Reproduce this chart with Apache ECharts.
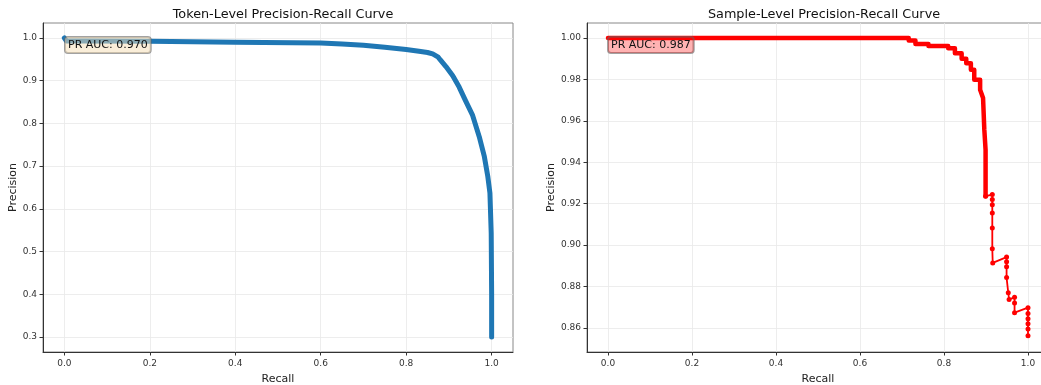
<!DOCTYPE html>
<html>
<head>
<meta charset="utf-8">
<script src="https://cdn.jsdelivr.net/npm/echarts@6/dist/echarts.min.js"></script>
<style>
html,body{margin:0;padding:0;background:#fff;}
#chart{width:1041px;height:385px;}
</style>
</head>
<body>
<div id="chart"></div>
<script>
// ---- Token-level PR curve ----
const tokenRecall    = [0, 0.005, 0.05, 0.2, 0.4, 0.6, 0.65, 0.7, 0.75, 0.8, 0.83, 0.85, 0.862, 0.875, 0.88, 0.893, 0.909, 0.924, 0.938, 0.955, 0.971, 0.983, 0.991, 0.996, 0.999, 1.0, 1.0];
const tokenPrecision = [1.0, 0.993, 0.993, 0.992, 0.990, 0.988, 0.986, 0.983, 0.978, 0.973, 0.969, 0.966, 0.9626, 0.955, 0.9486, 0.933, 0.9115, 0.885, 0.855, 0.82, 0.769, 0.722, 0.676, 0.637, 0.543, 0.40, 0.30];
const tokenAUC = "PR AUC: 0.970";

// ---- Sample-level PR curve (dense upper part and sparse lower part) ----
const sampleRecallDense    = [0, 0.716, 0.716, 0.732, 0.732, 0.763, 0.763, 0.81, 0.81, 0.826, 0.826, 0.842, 0.842, 0.853, 0.853, 0.864, 0.864, 0.872, 0.872, 0.886, 0.886, 0.893, 0.896, 0.896, 0.899, 0.899];
const samplePrecisionDense = [1.0, 1.0, 0.9987, 0.9987, 0.9971, 0.9971, 0.9961, 0.9961, 0.995, 0.995, 0.9926, 0.9926, 0.990, 0.990, 0.9878, 0.9878, 0.9846, 0.9846, 0.9798, 0.9798, 0.975, 0.971, 0.971, 0.9557, 0.946, 0.9236];
const sampleRecallSparse    = [0.899, 0.915, 0.915, 0.915, 0.915, 0.915, 0.915, 0.916, 0.949, 0.949, 0.949, 0.949, 0.953, 0.955, 0.968, 0.968, 0.968, 1.0, 1.0, 1.0, 1.0, 1.0, 1.0];
const samplePrecisionSparse = [0.9236, 0.9244, 0.922, 0.9195, 0.9155, 0.9083, 0.8982, 0.8914, 0.8942, 0.892, 0.8895, 0.8843, 0.877, 0.8738, 0.8748, 0.872, 0.8674, 0.8698, 0.867, 0.8645, 0.862, 0.8595, 0.8562];
const sampleAUC = "PR AUC: 0.987";

const xTicks = [0, 0.2, 0.4, 0.6, 0.8, 1.0];
const yTicksToken = [0.3, 0.4, 0.5, 0.6, 0.7, 0.8, 0.9, 1.0];
const yTicksSample = [0.86, 0.88, 0.90, 0.92, 0.94, 0.96, 0.98, 1.00];

const FONT = "DejaVu Sans";
const zip = (a, b) => a.map((v, i) => [v, b[i]]);

function xAxisCfg(gi) {
  return {
    type: 'value', gridIndex: gi, min: -0.05, max: 1.05,
    name: 'Recall', nameLocation: 'middle', nameGap: 21.5,
    nameTextStyle: {fontFamily: FONT, fontSize: 11, color: '#222'},
    axisLine: {show: true, onZero: false, lineStyle: {color: '#333', width: 1}},
    axisTick: {show: true, length: 3.5, customValues: xTicks, lineStyle: {color: '#333'}},
    axisLabel: {customValues: xTicks, fontFamily: FONT, fontSize: 9, color: '#333', margin: 7,
      formatter: v => v.toFixed(1)},
    splitLine: {show: true, lineStyle: {color: '#e8e8e8', width: 0.8}}
  };
}
function yAxisCfg(gi, min, max, ticks, dec, gap) {
  return {
    type: 'value', gridIndex: gi, min: min, max: max,
    name: 'Precision', nameLocation: 'middle', nameGap: gap, nameRotate: 90,
    nameTextStyle: {fontFamily: FONT, fontSize: 11, color: '#222'},
    axisLine: {show: true, onZero: false, lineStyle: {color: '#333', width: 1}},
    axisTick: {show: true, length: 3.5, customValues: ticks, lineStyle: {color: '#333'}},
    axisLabel: {customValues: ticks, fontFamily: FONT, fontSize: 9, color: '#333', margin: 6,
      formatter: v => v.toFixed(dec)},
    splitLine: {show: true, lineStyle: {color: '#e8e8e8', width: 0.8}}
  };
}

const chart = echarts.init(document.getElementById('chart'), null, {renderer: 'canvas'});
chart.setOption({
  animation: false,
  backgroundColor: '#fff',
  title: [
    {text: 'Token-Level Precision-Recall Curve', left: 278, top: 3, textAlign: 'center',
     textStyle: {fontFamily: FONT, fontSize: 12.8, fontWeight: 'normal', color: '#111'}},
    {text: 'Sample-Level Precision-Recall Curve', left: 819, top: 3, textAlign: 'center',
     textStyle: {fontFamily: FONT, fontSize: 12.8, fontWeight: 'normal', color: '#111'}}
  ],
  grid: [
    {left: 43, top: 23, width: 470, height: 329, show: true, borderColor: '#888', borderWidth: 1, containLabel: false, outerBoundsMode: 'none'},
    {left: 587, top: 23, width: 462, height: 329, show: true, borderColor: '#888', borderWidth: 1, containLabel: false, outerBoundsMode: 'none'}
  ],
  xAxis: [xAxisCfg(0), xAxisCfg(1)],
  yAxis: [
    yAxisCfg(0, 0.265, 1.035, yTicksToken, 1, 23),
    yAxisCfg(1, 0.8484, 1.0072, yTicksSample, 2, 28.5)
  ],
  series: [
    {type: 'line', xAxisIndex: 0, yAxisIndex: 0, data: zip(tokenRecall, tokenPrecision),
     showSymbol: false, smooth: false, lineStyle: {color: '#1f77b4', width: 5, cap: 'round', join: 'round'},
     itemStyle: {color: '#1f77b4'}, z: 2},
    {type: 'line', xAxisIndex: 1, yAxisIndex: 1, data: zip(sampleRecallDense, samplePrecisionDense),
     showSymbol: false, lineStyle: {color: '#ff0000', width: 4.5, cap: 'round', join: 'round'},
     itemStyle: {color: '#ff0000'}, z: 2},
    {type: 'line', xAxisIndex: 1, yAxisIndex: 1, data: zip(sampleRecallSparse, samplePrecisionSparse),
     showSymbol: true, showAllSymbol: true, symbol: 'circle', symbolSize: 5,
     lineStyle: {color: '#ff0000', width: 1.8}, itemStyle: {color: '#ff0000'}, z: 2}
  ],
  graphic: [
    {type: 'text', left: 64, top: 36, z: 100,
     style: {text: tokenAUC, font: '11px "DejaVu Sans"', fill: '#111',
       backgroundColor: 'rgba(245,222,179,0.5)', borderColor: 'rgba(100,100,100,0.6)', borderWidth: 1,
       borderRadius: 3, padding: [3, 3, 2, 3]}},
    {type: 'text', left: 607, top: 36, z: 100,
     style: {text: sampleAUC, font: '11px "DejaVu Sans"', fill: '#111',
       backgroundColor: 'rgba(255,0,0,0.3)', borderColor: 'rgba(100,100,100,0.6)', borderWidth: 1,
       borderRadius: 3, padding: [3, 3, 2, 3]}}
  ]
});
</script>
</body>
</html>
